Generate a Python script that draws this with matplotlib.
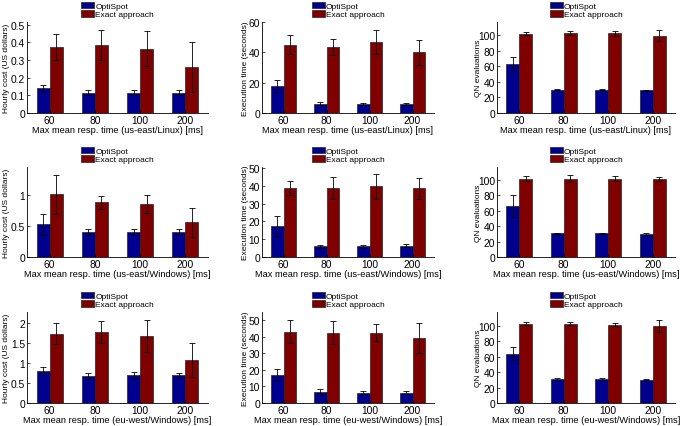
import numpy as np
import matplotlib
matplotlib.use('Agg')
import matplotlib.pyplot as plt

plt.rcParams['font.family'] = ['Liberation Sans', 'DejaVu Sans']

# categories
groups = ['60', '80', '100', '200']
series_names = ['OptiSpot', 'Exact approach']
regions = ['us-east/Linux', 'us-east/Windows', 'eu-west/Windows']
ylabels = ['Hourly cost (US dollars)', 'Execution time (seconds)', 'QN evaluations']

# hourly cost (US dollars)
cost_linux_opti = [0.139, 0.115, 0.115, 0.115]
cost_linux_opti_err = [0.02, 0.013, 0.013, 0.013]
cost_linux_exact = [0.374, 0.385, 0.365, 0.261]
cost_linux_exact_err = [0.075, 0.083, 0.098, 0.143]

cost_win_opti = [0.53, 0.40, 0.405, 0.405]
cost_win_opti_err = [0.165, 0.05, 0.05, 0.05]
cost_win_exact = [1.016, 0.886, 0.86, 0.56]
cost_win_exact_err = [0.32, 0.11, 0.15, 0.235]

cost_eu_opti = [0.80, 0.68, 0.69, 0.69]
cost_eu_opti_err = [0.11, 0.075, 0.09, 0.07]
cost_eu_exact = [1.73, 1.77, 1.66, 1.07]
cost_eu_exact_err = [0.26, 0.27, 0.40, 0.43]

# execution time (seconds)
time_linux_opti = [17.6, 6.2, 6.2, 6.2]
time_linux_opti_err = [4.0, 0.8, 0.7, 0.7]
time_linux_exact = [45.1, 43.5, 46.9, 40.0]
time_linux_exact_err = [6.0, 5.2, 7.9, 8.2]

time_win_opti = [17.5, 5.9, 5.9, 6.3]
time_win_opti_err = [5.6, 0.8, 0.8, 0.8]
time_win_exact = [38.8, 38.8, 39.6, 38.5]
time_win_exact_err = [4.0, 6.0, 6.9, 6.0]

time_eu_opti = [17.2, 6.4, 6.2, 6.2]
time_eu_opti_err = [3.2, 1.8, 0.8, 0.8]
time_eu_exact = [43.2, 42.6, 42.6, 39.4]
time_eu_exact_err = [6.9, 6.9, 5.3, 9.0]

# QN evaluations
qn_linux_opti = [62.7, 30.0, 30.0, 29.2]
qn_linux_opti_err = [8.8, 1.0, 1.0, 1.0]
qn_linux_exact = [101.7, 102.6, 102.6, 99.6]
qn_linux_exact_err = [2.0, 2.5, 3.0, 7.0]

qn_win_opti = [66.4, 30.6, 30.6, 30.2]
qn_win_opti_err = [14.6, 1.0, 1.0, 1.0]
qn_win_exact = [102.0, 102.0, 102.0, 101.3]
qn_win_exact_err = [3.0, 5.0, 3.0, 3.0]

qn_eu_opti = [63.7, 31.2, 31.2, 30.3]
qn_eu_opti_err = [8.0, 1.0, 1.0, 1.0]
qn_eu_exact = [102.6, 102.6, 101.3, 99.1]
qn_eu_exact_err = [2.5, 2.5, 1.5, 7.5]

panels = [
    [(cost_linux_opti, cost_linux_opti_err, cost_linux_exact, cost_linux_exact_err),
     (time_linux_opti, time_linux_opti_err, time_linux_exact, time_linux_exact_err),
     (qn_linux_opti, qn_linux_opti_err, qn_linux_exact, qn_linux_exact_err)],
    [(cost_win_opti, cost_win_opti_err, cost_win_exact, cost_win_exact_err),
     (time_win_opti, time_win_opti_err, time_win_exact, time_win_exact_err),
     (qn_win_opti, qn_win_opti_err, qn_win_exact, qn_win_exact_err)],
    [(cost_eu_opti, cost_eu_opti_err, cost_eu_exact, cost_eu_exact_err),
     (time_eu_opti, time_eu_opti_err, time_eu_exact, time_eu_exact_err),
     (qn_eu_opti, qn_eu_opti_err, qn_eu_exact, qn_eu_exact_err)],
]

# y limits and ticks per panel
ylims = [[0.515, 60, 117], [1.46, 50.5, 117], [2.27, 55, 117.5]]
yticks = [
    [[0, 0.1, 0.2, 0.3, 0.4, 0.5], [0, 20, 40, 60], [0, 20, 40, 60, 80, 100]],
    [[0, 0.5, 1], [0, 10, 20, 30, 40, 50], [0, 20, 40, 60, 80, 100]],
    [[0, 0.5, 1, 1.5, 2], [0, 10, 20, 30, 40, 50], [0, 20, 40, 60, 80, 100]],
]
yticklabels = [
    [['0', '0.1', '0.2', '0.3', '0.4', '0.5'], None, None],
    [['0', '0.5', '1'], None, None],
    [['0', '0.5', '1', '1.5', '2'], None, None],
]

W, H = 685, 427
fig = plt.figure(figsize=(W / 100, H / 100), dpi=100, facecolor='white')

# axes boxes in pixels: (left, right), (top, bottom)
cols = [(27, 208), (262, 434), (497, 675)]
rows = [(23, 114), (168, 258), (313, 404)]
ylabel_right = [10, 249, 482]

blue = '#00008F'
red = '#800000'
x = np.arange(1, len(groups) + 1)
w = 0.29

for r in range(3):
    for c in range(3):
        l, rr = cols[c]
        t, b = rows[r]
        ax = fig.add_axes([l / W, 1 - b / H, (rr - l) / W, (b - t) / H])
        a, ae, e, ee = panels[r][c]
        ax.bar(x - w / 2, a, w, yerr=ae, color=blue, edgecolor='#222222', linewidth=0.5,
               label=series_names[0],
               error_kw=dict(ecolor='black', elinewidth=0.6, capsize=2, capthick=0.6))
        ax.bar(x + w / 2, e, w, yerr=ee, color=red, edgecolor='#222222', linewidth=0.5,
               label=series_names[1],
               error_kw=dict(ecolor='black', elinewidth=0.6, capsize=2, capthick=0.6))
        ax.set_xlim(0.5, 4.5)
        ax.set_ylim(0, ylims[r][c])
        ax.set_xticks(x)
        ax.set_xticklabels(groups)
        ax.set_yticks(yticks[r][c])
        if yticklabels[r][c] is not None:
            ax.set_yticklabels(yticklabels[r][c])
        ax.spines['top'].set_visible(False)
        ax.spines['right'].set_visible(False)
        ax.spines['left'].set_linewidth(0.6)
        ax.spines['bottom'].set_linewidth(0.6)
        ax.tick_params(direction='in', length=2, width=0.5, labelsize=7.4, pad=1.5)
        ax.set_xlabel('Max mean resp. time (%s) [ms]' % regions[r], fontsize=6.7, labelpad=0)
        ax.set_ylabel(ylabels[c], fontsize=6.0)
        ax.yaxis.set_label_coords((ylabel_right[c] - l) / (rr - l), 0.5)
        ax.legend(loc='lower center', bbox_to_anchor=(0.5, 1.04), frameon=False,
                  fontsize=6.0, handlelength=1.6, handleheight=0.75,
                  handletextpad=0.1, labelspacing=0.05, borderpad=0, borderaxespad=0)

fig.savefig('out.png', dpi=100)
